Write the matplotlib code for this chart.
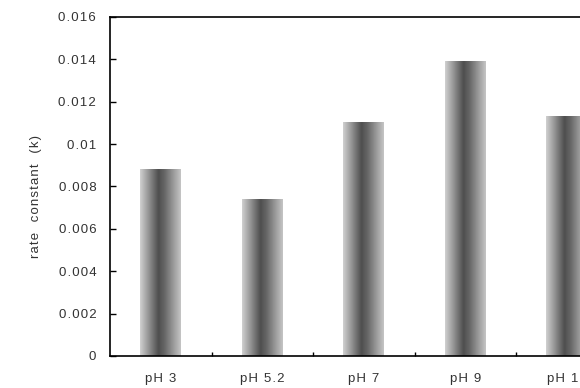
import numpy as np
import matplotlib
matplotlib.use('Agg')
import matplotlib.pyplot as plt
from matplotlib.colors import LinearSegmentedColormap

# rate constants
labels = ['pH 3', 'pH 5.2', 'pH 7', 'pH 9', 'pH 11']
rates = [0.0088, 0.0074, 0.0110, 0.0139, 0.0113]

yticks = [0, 0.002, 0.004, 0.006, 0.008, 0.01, 0.012, 0.014, 0.016]
ytick_labels = ['0', '0.002', '0.004', '0.006', '0.008', '0.01', '0.012', '0.014', '0.016']

plt.rcParams['font.family'] = ['Liberation Sans', 'DejaVu Sans']


# the original has loose letter spacing; fake it with hair spaces
def spaced(s):
    return '\u200a'.join(s.replace(' ', '  '))


fig = plt.figure(figsize=(5.8, 3.88), dpi=100)
# axes run off the right edge, like the cropped original
ax = fig.add_axes([0.1897, 0.0825, 0.875, 0.8737])

# cylinder-ish shading: light edges, dark just left of centre
shade = LinearSegmentedColormap.from_list(
    'shade', [(0.0, '#cfcfcf'), (0.45, '#4e4e4e'), (0.6, '#666666'), (1.0, '#c4c4c4')])
grad = np.linspace(0, 1, 64).reshape(1, -1)

width = 0.4
x = np.arange(len(labels))
for xi, r in zip(x, rates):
    ax.imshow(grad, cmap=shade, aspect='auto', interpolation='bilinear',
              extent=(xi - width / 2, xi + width / 2, 0, r), zorder=2)

ax.set_xlim(-0.5, len(labels) - 0.5)
ax.set_ylim(0, 0.016)

txt = dict(fontsize=9.5, color='#333333')
ax.set_yticks(yticks)
ax.set_yticklabels(['\u200a'.join(t) for t in ytick_labels], **txt)
ax.tick_params(axis='y', direction='in', length=4, width=1, pad=10)

ax.set_xticks(x)
ax.set_xticklabels(['\u200a'.join(t) for t in labels], **txt)
ax.tick_params(axis='x', which='major', length=0, pad=12)
ax.set_xticks(np.arange(0.5, len(labels) - 0.5, 1), minor=True)
ax.tick_params(axis='x', which='minor', direction='in', length=3, width=1)

for s in ax.spines.values():
    s.set_linewidth(1.2)

ax.set_ylabel(spaced('rate constant (k)'), **txt)
ax.yaxis.set_label_coords(-0.135, 0.47)

fig.savefig('out.png', dpi=100)
